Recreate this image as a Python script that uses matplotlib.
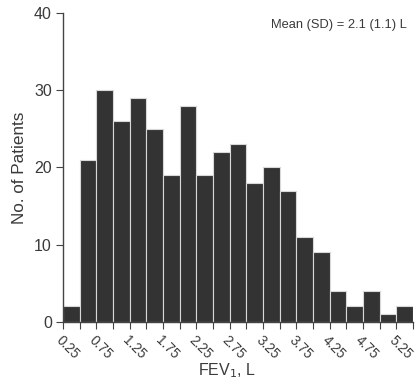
import numpy as np
import matplotlib.transforms as mtransforms
from matplotlib import pyplot as plt

# histogram of FEV1 values, bin width 0.25 L
bin_edges = np.arange(0.25, 5.5 + 0.001, 0.25)
counts = [2, 21, 30, 26, 29, 25, 19, 28, 19, 22, 23, 18, 20, 17, 11, 9, 4, 2, 4, 1, 2]
tick_labels = ["0.25", "0.75", "1.25", "1.75", "2.25", "2.75", "3.25", "3.75", "4.25", "4.75", "5.25"]

plt.rcParams["font.family"] = ["Liberation Sans", "DejaVu Sans"]
text_col = "#3a3a3a"

fig = plt.figure(figsize=(4.17, 3.81), dpi=100)
ax = fig.add_axes([0.151, 0.155, 0.839, 0.811])

ax.bar(bin_edges[:-1], counts, width=0.25, align="edge",
       color="#333333", edgecolor="#d8d8d8", linewidth=0.8)

ax.set_xlim(0.25, 5.5)
ax.set_ylim(0, 40)
ax.set_yticks([0, 10, 20, 30, 40])
ax.set_xticks(bin_edges)
ax.set_xticklabels([tick_labels[i // 2] if i % 2 == 0 else "" for i in range(len(bin_edges))],
                   rotation=-45, ha="left", va="top", rotation_mode="anchor")
# nudge rotated labels a little to the left
shift = mtransforms.ScaledTranslation(-4 / 100, 0, fig.dpi_scale_trans)
for lab in ax.get_xticklabels():
    lab.set_transform(lab.get_transform() + shift)

for s in ["top", "right"]:
    ax.spines[s].set_visible(False)
for s in ["left", "bottom"]:
    ax.spines[s].set_color("#444444")
    ax.spines[s].set_linewidth(1.0)

ax.tick_params(axis="y", labelsize=11.5, colors="#444444", labelcolor=text_col, length=5, pad=3)
ax.tick_params(axis="x", labelsize=9.8, colors="#444444", labelcolor=text_col, length=5, pad=3)

ax.set_ylabel("No. of Patients", fontsize=12.3, color=text_col, labelpad=5)
ax.set_xlabel("FEV$_1$, L", fontsize=11.5, color=text_col, va="center")
ax.xaxis.set_label_coords(0.47, -0.158)

ax.text(0.983, 0.962, "Mean (SD) = 2.1 (1.1) L", transform=ax.transAxes,
        ha="right", va="center", fontsize=9.3, color=text_col)

fig.savefig("out.png", dpi=100)
